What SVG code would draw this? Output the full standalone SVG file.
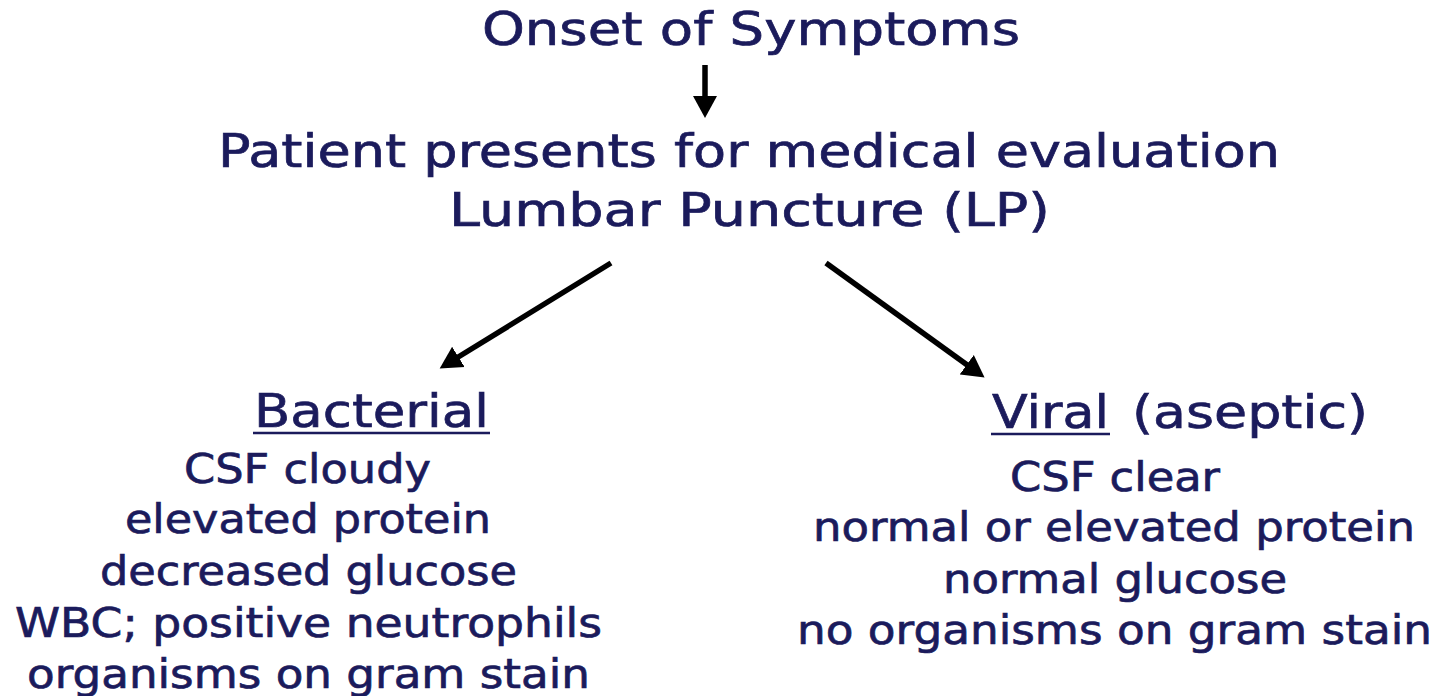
<svg xmlns="http://www.w3.org/2000/svg" width="1439" height="696" viewBox="0 0 1439 696">
<style>
  text { font-family: "DejaVu Sans", Verdana, sans-serif; fill: #1b1b5c; stroke: #1b1b5c; stroke-width: 0.7; }
  .big { font-size: 47px; }
  .item { font-size: 41px; }
  .conn { stroke: #000; stroke-width: 5.5; fill: none; }
  .ul { stroke: #1b1b5c; stroke-width: 2.5; }
</style>
<defs>
  <marker id="ah" markerUnits="userSpaceOnUse" markerWidth="24" markerHeight="26" refX="4" refY="13" orient="auto">
    <path d="M0,1 L22,13 L0,25 z" fill="#000"/>
  </marker>
</defs>
<rect width="1439" height="696" fill="#fff"/>
<g id="connectors">
  <line class="conn" x1="705" y1="65" x2="705" y2="100" marker-end="url(#ah)"/>
  <line class="conn" x1="611" y1="263" x2="455" y2="359" marker-end="url(#ah)"/>
  <line class="conn" x1="826" y1="263" x2="970" y2="367" marker-end="url(#ah)"/>
</g>
<g id="onset">
  <text class="big" x="482" y="45" textLength="538" lengthAdjust="spacingAndGlyphs">Onset of Symptoms</text>
</g>
<g id="patient">
  <text class="big" x="218" y="167" textLength="1062" lengthAdjust="spacingAndGlyphs">Patient presents for medical evaluation</text>
  <text class="big" x="449" y="226" textLength="601" lengthAdjust="spacingAndGlyphs">Lumbar Puncture (LP)</text>
</g>
<g id="bacterial">
  <text class="big" x="254" y="427" textLength="235" lengthAdjust="spacingAndGlyphs">Bacterial</text>
  <line class="ul" x1="253" y1="433" x2="490" y2="433"/>
  <text class="item" x="184" y="483" textLength="247" lengthAdjust="spacingAndGlyphs">CSF cloudy</text>
  <text class="item" x="125" y="533" textLength="366" lengthAdjust="spacingAndGlyphs">elevated protein</text>
  <text class="item" x="100" y="585" textLength="417" lengthAdjust="spacingAndGlyphs">decreased glucose</text>
  <text class="item" x="15" y="637" textLength="587" lengthAdjust="spacingAndGlyphs">WBC; positive neutrophils</text>
  <text class="item" x="27" y="688" textLength="563" lengthAdjust="spacingAndGlyphs">organisms on gram stain</text>
</g>
<g id="viral">
  <text class="big" x="992" y="428" textLength="117" lengthAdjust="spacingAndGlyphs">Viral</text>
  <line class="ul" x1="991" y1="434" x2="1110" y2="434"/>
  <text class="big" x="1132" y="428" textLength="236" lengthAdjust="spacingAndGlyphs">(aseptic)</text>
  <text class="item" x="1010" y="491" textLength="210" lengthAdjust="spacingAndGlyphs">CSF clear</text>
  <text class="item" x="813" y="541" textLength="602" lengthAdjust="spacingAndGlyphs">normal or elevated protein</text>
  <text class="item" x="943" y="593" textLength="344" lengthAdjust="spacingAndGlyphs">normal glucose</text>
  <text class="item" x="797" y="644" textLength="635" lengthAdjust="spacingAndGlyphs">no organisms on gram stain</text>
</g>
</svg>
